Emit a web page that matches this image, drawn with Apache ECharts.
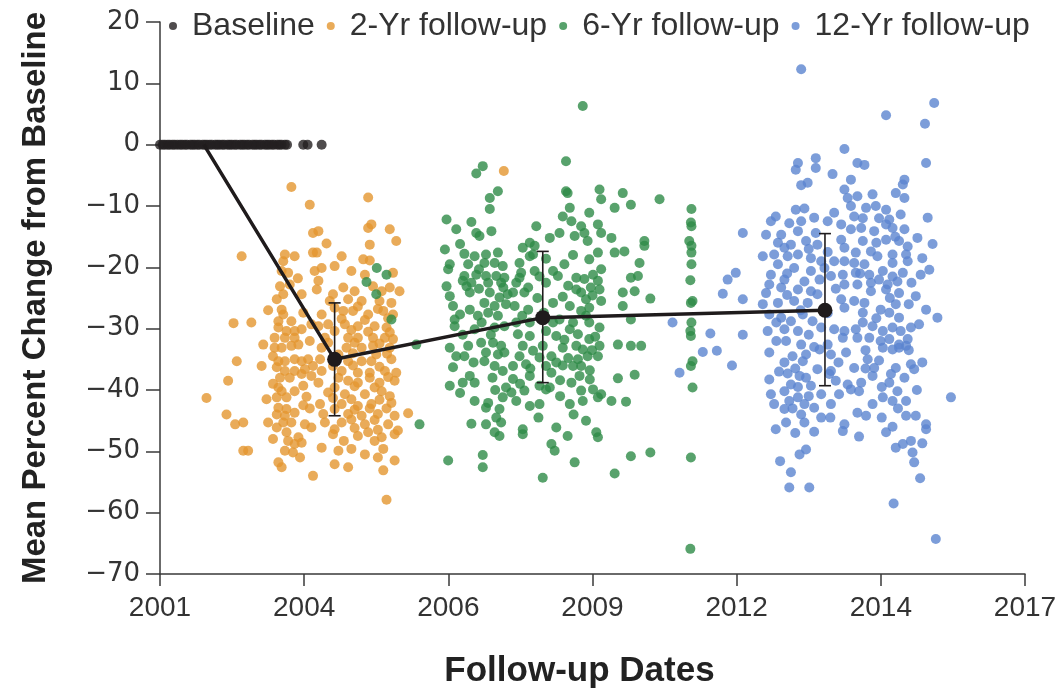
<!DOCTYPE html>
<html><head><meta charset="utf-8">
<script src="https://cdn.jsdelivr.net/npm/echarts@6/dist/echarts.min.js"></script>
<style>html,body{margin:0;padding:0;background:#fff}#c{width:1064px;height:694px}</style>
</head><body><div id="c"></div>
<script>
const xTickLabels = ['2001','2004','2006','2009','2012','2014','2017'];

const baselineYears = [2001.00,2001.05,2001.09,2001.14,2001.18,2001.23,2001.27,2001.32,2001.37,2001.41,2001.46,2001.50,2001.56,2001.60,2001.64,2001.69,2001.73,2001.79,2001.83,2001.87,2001.92,2001.96,2002.02,2002.06,2002.10,2002.15,2002.19,2002.25,2002.29,2002.33,2002.38,2002.42,2002.48,2002.52,2002.56,2002.61,2002.65,2002.71,2002.75,2002.79,2002.84,2002.88,2002.94,2002.98,2003.02,2003.07,2003.11,2003.17,2003.21,2003.25,2003.31,2003.35,2003.65,2003.73,2003.99];

const twoYr = [[2003.43,-6.9],[2003.77,-9.8],[2003.83,-14.4],[2002.51,-18.2],[2003.31,-17.9],[2003.49,-18.2],[2003.28,-19.0],[2003.83,-17.6],[2003.86,-20.6],[2003.37,-20.9],[2003.25,-20.6],[2003.22,-23.1],[2003.40,-22.8],[2003.16,-25.2],[2003.28,-24.4],[2003.62,-24.4],[2003.25,-26.9],[2003.28,-27.7],[2003.19,-28.8],[2003.43,-28.8],[2002.36,-29.1],[2002.69,-29.0],[2003.19,-29.8],[2003.34,-30.4],[2003.49,-30.4],[2003.62,-30.1],[2003.80,-29.3],[2003.12,-31.5],[2003.31,-31.5],[2003.49,-31.5],[2002.91,-32.6],[2003.12,-33.1],[2003.25,-33.1],[2003.43,-32.8],[2003.56,-32.6],[2002.42,-35.3],[2002.88,-36.1],[2003.09,-34.5],[2003.19,-35.3],[2003.31,-35.3],[2003.49,-35.0],[2003.62,-35.3],[2003.74,-35.0],[2003.83,-36.1],[2003.16,-36.3],[2003.31,-36.9],[2003.49,-36.9],[2003.68,-36.6],[2003.22,-38.0],[2003.40,-38.0],[2003.62,-37.4],[2003.80,-37.7],[2002.26,-38.5],[2003.19,-39.6],[2003.49,-40.2],[2003.25,-40.2],[2001.86,-41.3],[2003.16,-41.2],[2003.34,-41.2],[2003.71,-41.1],[2003.19,-42.9],[2003.34,-43.1],[2003.49,-43.7],[2003.16,-44.0],[2003.31,-44.2],[2002.23,-44.0],[2002.39,-45.6],[2002.54,-45.3],[2003.00,-45.3],[2003.16,-46.1],[2003.28,-45.3],[2003.43,-45.3],[2003.68,-45.6],[2003.80,-46.1],[2003.34,-46.9],[2003.37,-48.3],[2003.56,-47.7],[2003.49,-48.8],[2002.54,-49.9],[2002.63,-49.9],[2003.31,-49.9],[2003.46,-50.2],[2003.59,-51.0],[2003.19,-51.8],[2003.25,-52.6],[2003.83,-54.0],
[2003.65,-27.4],[2003.77,-32.0],[2003.09,-39.0],[2003.65,-39.3],[2003.77,-43.0],[2003.62,-48.6],[2003.09,-48.0],[2002.97,-41.5],[2003.00,-27.0],[2003.55,-21.8],[2003.65,-42.5],
[2004.85,-8.6],[2004.91,-13.0],[2004.85,-13.6],[2005.25,-13.8],[2005.37,-15.7],[2004.88,-16.3],[2004.08,-16.1],[2003.93,-14.1],[2003.90,-17.6],[2004.36,-18.2],[2004.76,-18.7],[2004.88,-18.9],[2004.23,-19.8],[2003.99,-20.1],[2004.54,-20.6],[2004.79,-21.2],[2005.31,-20.9],[2003.93,-22.2],[2003.90,-23.6],[2004.20,-24.4],[2004.39,-23.3],[2004.60,-23.9],[2004.94,-23.1],[2005.10,-23.9],[2005.25,-23.3],[2005.43,-23.9],[2004.14,-25.5],[2004.48,-25.2],[2004.73,-25.5],[2005.06,-25.5],[2005.28,-25.8],[2003.99,-27.7],[2004.39,-27.1],[2004.57,-27.1],[2004.85,-27.7],[2005.13,-27.1],[2005.31,-27.7],[2003.93,-29.6],[2004.11,-29.3],[2004.42,-29.3],[2004.66,-29.6],[2004.97,-29.6],[2005.19,-29.8],[2004.05,-31.5],[2004.48,-31.5],[2004.66,-31.5],[2004.94,-31.5],[2005.16,-31.5],[2005.31,-31.7],[2003.99,-33.1],[2004.45,-33.1],[2004.73,-33.1],[2004.94,-32.8],[2005.25,-33.1],[2003.96,-35.0],[2004.48,-35.3],[2004.73,-35.3],[2004.91,-35.3],[2005.28,-35.0],[2003.99,-36.9],[2004.36,-36.9],[2004.66,-37.2],[2004.88,-37.2],[2005.16,-36.9],[2005.37,-37.2],[2003.93,-38.8],[2004.48,-38.5],[2004.66,-38.8],[2005.06,-38.8],[2005.34,-38.5],[2004.11,-40.4],[2004.42,-40.7],[2004.79,-40.7],[2005.10,-40.2],[2005.25,-41.0],[2003.96,-42.3],[2004.36,-42.3],[2004.66,-42.6],[2004.91,-42.3],[2005.28,-42.1],[2004.02,-43.9],[2004.48,-43.9],[2004.73,-44.2],[2005.03,-43.9],[2005.34,-44.2],[2005.59,-43.8],[2004.05,-45.3],[2004.36,-45.3],[2004.79,-45.6],[2005.22,-45.6],[2005.40,-46.6],[2004.20,-47.2],[2004.66,-47.5],[2004.85,-46.9],[2005.10,-47.7],[2005.34,-47.2],[2003.99,-49.4],[2004.30,-49.9],[2004.54,-49.6],[2004.79,-50.5],[2005.13,-49.6],[2004.48,-52.6],[2004.23,-52.1],[2005.03,-51.0],[2005.34,-51.5],[2005.13,-53.1],[2005.19,-57.9],
[2004.23,-26.6],[2004.66,-26.4],[2005.03,-26.8],[2004.36,-28.4],[2004.79,-28.6],[2005.22,-28.3],[2004.23,-30.4],[2004.54,-30.2],[2004.85,-30.5],[2005.25,-30.6],[2004.11,-32.3],[2004.60,-32.3],[2005.06,-32.4],[2004.30,-34.2],[2004.57,-34.0],[2005.00,-34.2],[2005.20,-34.1],[2004.20,-36.1],[2004.57,-36.0],[2005.06,-36.2],[2004.30,-38.0],[2004.88,-38.0],[2005.22,-37.9],[2004.23,-39.6],[2004.60,-39.4],[2004.97,-39.6],[2004.54,-41.5],[2005.06,-41.6],[2004.20,-41.3],[2004.23,-43.1],[2004.60,-43.2],[2004.88,-43.0],[2005.19,-43.0],[2004.54,-44.8],[2004.97,-44.9],[2004.23,-46.4],[2004.60,-46.2],[2005.03,-46.5],[2004.40,-48.3],[2004.97,-48.3],
[2007.36,-4.3]];

const sixYr = [[2005.19,-21.2],[2005.01,-20.1],[2004.82,-22.4],[2005.00,-24.4],[2005.28,-28.5],[2005.74,-32.6],[2005.80,-45.6],
[2006.97,-3.5],[2006.85,-4.7],[2007.25,-7.6],[2007.10,-8.7],[2007.10,-10.5],[2006.30,-12.2],[2006.48,-13.8],[2006.76,-12.6],[2006.85,-14.4],[2006.91,-14.9],[2007.13,-14.1],[2006.27,-17.1],[2006.63,-17.8],[2006.82,-18.2],[2007.03,-17.9],[2007.25,-17.6],[2006.36,-19.5],[2006.33,-20.3],[2006.70,-19.5],[2007.00,-19.3],[2007.19,-19.3],[2007.34,-19.8],[2006.63,-21.4],[2006.85,-21.2],[2007.03,-21.4],[2007.22,-21.4],[2007.37,-21.7],[2006.30,-23.1],[2006.67,-23.1],[2006.76,-22.5],[2007.07,-22.5],[2007.31,-22.5],[2006.36,-24.7],[2006.73,-24.1],[2007.10,-24.1],[2007.28,-24.9],[2007.43,-24.4],[2006.42,-26.3],[2006.73,-26.9],[2007.00,-25.8],[2007.19,-26.3],[2007.40,-26.0],[2006.45,-28.5],[2006.88,-27.9],[2007.07,-27.4],[2007.25,-27.9],[2006.45,-29.6],[2006.82,-30.1],[2007.19,-29.8],[2007.37,-29.6],[2006.36,-33.1],[2006.70,-32.8],[2006.94,-32.3],[2007.16,-32.3],[2007.31,-32.8],[2006.48,-34.5],[2006.63,-34.5],[2007.03,-33.9],[2007.25,-34.2],[2007.37,-33.9],[2006.42,-36.3],[2007.00,-35.3],[2007.19,-36.1],[2007.34,-36.9],[2006.36,-39.3],[2006.60,-38.8],[2006.73,-37.7],[2006.82,-38.8],[2007.40,-39.6],[2006.82,-41.8],[2007.07,-42.1],[2007.03,-42.9],[2007.34,-41.2],[2007.28,-43.1],[2007.22,-44.5],[2007.31,-45.3],[2006.76,-45.5],[2007.03,-45.6],[2007.19,-46.9],[2007.28,-47.5],[2006.33,-51.5],[2006.97,-50.6],[2006.97,-52.6],
[2006.55,-16.2],[2006.60,-22.2],[2006.90,-23.5],[2006.55,-27.7],[2006.95,-29.0],[2006.60,-31.0],[2007.12,-31.0],[2006.80,-35.5],[2007.15,-38.0],[2006.55,-40.5],[2007.20,-40.0],[2006.90,-20.3],[2007.35,-23.3],
[2008.82,6.3],[2008.51,-2.7],[2008.51,-7.6],[2008.54,-7.9],[2008.58,-10.3],[2008.45,-11.7],[2007.96,-13.3],[2008.61,-12.5],[2008.79,-13.3],[2008.94,-11.1],[2009.13,-7.3],[2009.16,-8.9],[2008.39,-14.4],[2008.21,-15.2],[2007.84,-16.0],[2007.71,-16.8],[2007.93,-16.5],[2008.67,-14.9],[2008.85,-14.4],[2008.91,-15.7],[2009.10,-13.0],[2009.16,-14.4],[2007.65,-19.3],[2007.84,-18.2],[2008.27,-20.6],[2008.48,-19.5],[2008.94,-18.7],[2009.10,-17.6],[2009.16,-20.3],[2007.68,-20.9],[2007.93,-20.6],[2008.36,-21.4],[2008.70,-21.7],[2008.85,-21.9],[2009.01,-21.2],[2007.59,-22.5],[2007.81,-23.3],[2008.14,-22.5],[2008.70,-23.6],[2008.79,-24.1],[2009.10,-22.2],[2007.53,-24.1],[2007.74,-24.1],[2008.27,-25.8],[2008.88,-25.2],[2009.13,-23.6],[2007.56,-26.3],[2007.81,-26.9],[2008.58,-26.3],[2008.79,-27.1],[2008.94,-26.6],[2009.16,-25.5],[2007.59,-29.0],[2007.84,-29.0],[2008.27,-29.0],[2008.39,-28.5],[2008.64,-29.0],[2008.94,-29.0],[2009.13,-29.8],[2007.62,-30.9],[2007.84,-31.2],[2008.33,-31.2],[2008.58,-30.1],[2008.73,-30.9],[2008.94,-31.7],[2007.71,-32.8],[2008.08,-32.8],[2008.45,-33.1],[2008.70,-32.8],[2008.82,-33.4],[2009.13,-32.8],[2007.65,-34.5],[2008.02,-34.7],[2008.24,-34.5],[2008.33,-35.5],[2008.73,-35.0],[2008.91,-34.5],[2009.10,-34.5],[2007.53,-36.1],[2007.77,-35.8],[2008.14,-36.1],[2008.24,-37.2],[2008.64,-36.1],[2008.79,-36.1],[2007.53,-38.2],[2007.84,-37.7],[2008.02,-39.3],[2008.21,-39.6],[2008.61,-38.8],[2008.76,-37.7],[2007.50,-40.4],[2007.74,-40.1],[2008.14,-39.9],[2008.79,-40.1],[2009.01,-39.9],[2009.16,-40.7],[2007.59,-41.8],[2007.84,-42.6],[2008.02,-42.3],[2008.58,-42.3],[2008.82,-41.8],[2009.10,-41.2],[2008.88,-45.0],[2007.71,-46.4],[2007.71,-47.2],[2008.33,-46.1],[2008.54,-47.5],[2009.10,-47.7],[2009.07,-46.9],[2008.24,-48.8],[2008.30,-49.9],[2008.67,-51.8],[2008.08,-54.3],
[2007.90,-17.9],[2008.14,-18.6],[2008.64,-18.0],[2007.65,-21.7],[2008.02,-21.5],[2008.55,-23.0],[2008.97,-23.3],[2007.98,-25.0],[2008.45,-24.8],[2009.00,-24.6],[2007.70,-27.9],[2008.10,-27.4],[2008.88,-27.9],[2008.48,-31.8],[2008.14,-30.4],[2009.05,-31.3],[2007.90,-33.6],[2008.55,-34.8],[2008.99,-33.5],[2007.85,-36.5],[2008.45,-36.0],[2008.95,-36.8],[2008.40,-38.4],[2008.95,-38.3],[2007.66,-39.0],[2008.40,-41.0],[2008.65,-44.0],[2008.00,-44.5],
[2009.56,-7.9],[2009.71,-9.8],[2009.41,-10.3],[2010.24,-8.9],[2009.35,-15.2],[2009.96,-15.7],[2009.96,-16.5],[2009.59,-17.4],[2009.41,-17.6],[2009.87,-19.3],[2009.71,-21.7],[2009.84,-21.4],[2009.56,-24.1],[2009.78,-23.9],[2009.56,-26.3],[2010.07,-25.1],[2009.71,-28.5],[2009.47,-32.6],[2009.71,-32.8],[2009.90,-32.8],[2009.47,-38.1],[2009.78,-37.5],[2009.35,-41.8],[2009.62,-41.9],[2009.71,-50.8],[2010.07,-50.2],[2009.41,-53.6],
[2010.83,-10.5],[2010.82,-12.7],[2010.83,-13.3],[2010.79,-15.7],[2010.83,-16.5],[2010.83,-17.6],[2010.83,-19.5],[2010.81,-22.1],[2010.85,-25.5],[2010.82,-25.8],[2010.83,-29.0],[2010.81,-30.4],[2010.82,-31.2],[2010.85,-35.3],[2010.82,-36.1],[2010.85,-39.6],[2010.82,-51.0],[2010.81,-65.9]];

const twelveYr = [[2010.48,-29.0],[2010.61,-37.2],[2011.04,-33.8],
[2011.78,-14.4],[2011.50,-22.0],[2011.65,-20.9],[2011.41,-24.3],[2011.78,-25.2],[2011.18,-30.8],[2011.78,-31.0],[2011.30,-33.6],[2011.58,-36.0],
[2012.86,12.3],[2013.66,-0.7],[2012.80,-3.0],[2012.76,-4.1],[2013.13,-2.2],[2013.13,-3.8],[2013.44,-4.8],[2012.86,-6.6],[2012.98,-6.2],[2013.66,-7.3],[2013.72,-8.7],[2012.76,-10.6],[2012.92,-10.4],[2013.47,-11.1],[2012.39,-11.7],[2012.30,-12.5],[2012.64,-12.8],[2012.86,-12.5],[2013.10,-11.9],[2013.35,-12.5],[2013.60,-13.0],[2012.21,-14.7],[2012.49,-14.7],[2012.80,-14.1],[2013.13,-14.4],[2013.60,-15.5],[2012.43,-16.0],[2012.67,-16.3],[2012.95,-15.7],[2013.16,-16.3],[2013.66,-16.8],[2012.15,-18.2],[2012.36,-17.9],[2012.61,-18.2],[2012.80,-17.9],[2013.04,-18.5],[2013.23,-19.0],[2013.47,-19.0],[2013.66,-19.0],[2012.43,-19.5],[2012.73,-20.1],[2013.04,-20.6],[2013.29,-20.1],[2013.41,-21.4],[2013.63,-21.2],[2012.30,-21.2],[2012.55,-22.0],[2012.92,-22.3],[2012.27,-22.8],[2012.49,-23.3],[2012.80,-23.6],[2013.04,-23.9],[2013.16,-24.4],[2013.66,-22.8],[2012.21,-24.2],[2012.15,-26.0],[2012.43,-25.8],[2012.73,-25.5],[2012.98,-25.8],[2013.60,-25.2],[2013.66,-26.6],[2012.27,-27.7],[2012.49,-28.2],[2012.67,-28.8],[2012.89,-27.7],[2013.07,-28.8],[2012.24,-30.4],[2012.55,-30.1],[2012.80,-30.4],[2013.23,-29.8],[2013.47,-30.1],[2013.66,-30.4],[2012.58,-32.0],[2012.86,-32.6],[2013.35,-32.6],[2013.63,-31.5],[2012.27,-33.9],[2012.70,-34.5],[2012.95,-34.2],[2013.20,-33.4],[2013.41,-34.2],[2013.69,-33.9],[2012.55,-35.5],[2012.89,-35.3],[2013.16,-36.6],[2013.41,-36.9],[2012.61,-37.3],[2012.83,-37.7],[2012.27,-38.3],[2012.67,-39.1],[2012.95,-38.0],[2013.04,-39.3],[2013.38,-37.4],[2012.30,-40.7],[2012.55,-40.2],[2012.80,-41.2],[2013.23,-40.7],[2013.56,-40.7],[2013.72,-39.1],[2012.36,-42.3],[2012.64,-41.8],[2012.92,-42.3],[2013.10,-42.9],[2013.41,-42.3],[2012.55,-43.1],[2012.86,-44.0],[2013.23,-44.5],[2012.58,-45.3],[2012.92,-45.3],[2012.39,-46.4],[2013.10,-46.8],[2013.63,-46.7],[2013.66,-45.6],[2012.95,-49.7],[2012.83,-50.5],[2012.47,-51.6],[2012.67,-53.4],[2012.64,-55.9],[2013.01,-55.9],
[2012.55,-16.8],[2013.00,-17.0],[2013.35,-17.5],[2012.60,-21.0],[2013.20,-22.0],[2013.50,-23.5],[2012.60,-24.5],[2012.85,-27.0],[2013.35,-27.5],[2012.40,-29.0],[2013.00,-31.0],[2012.40,-32.0],[2013.10,-33.0],[2012.75,-36.5],[2013.55,-35.5],[2012.45,-37.0],[2012.80,-39.5],[2013.50,-38.5],[2012.70,-43.0],[2013.00,-41.0],[2012.75,-47.0],[2013.40,-44.5],
[2015.32,6.8],[2014.43,4.8],[2015.15,3.4],[2015.17,-3.0],[2013.90,-3.0],[2014.03,-3.3],[2013.78,-5.7],[2014.77,-5.7],[2014.74,-6.5],[2013.90,-8.4],[2014.18,-8.1],[2014.61,-7.9],[2014.77,-8.7],[2013.78,-10.0],[2014.06,-10.3],[2014.24,-10.0],[2014.43,-10.6],[2013.84,-11.7],[2015.20,-11.9],[2014.49,-12.2],[2014.70,-11.4],[2013.78,-13.8],[2013.97,-13.6],[2014.21,-14.1],[2014.43,-13.0],[2014.55,-13.6],[2014.77,-13.8],[2015.01,-15.2],[2015.29,-16.2],[2014.00,-15.7],[2014.43,-15.5],[2014.67,-15.7],[2014.83,-16.6],[2013.87,-17.6],[2014.15,-17.4],[2014.27,-18.2],[2014.55,-17.9],[2014.80,-17.9],[2015.10,-18.5],[2013.84,-19.3],[2014.03,-19.5],[2014.55,-19.3],[2014.83,-19.0],[2015.23,-20.4],[2015.07,-21.2],[2013.87,-20.9],[2014.12,-21.2],[2014.37,-20.6],[2014.74,-20.9],[2014.64,-22.3],[2014.98,-24.7],[2013.90,-22.8],[2014.15,-22.5],[2014.46,-22.8],[2014.15,-23.9],[2014.43,-23.6],[2014.67,-24.2],[2013.84,-25.5],[2014.03,-25.8],[2014.33,-26.9],[2014.61,-26.0],[2015.17,-26.9],[2015.38,-28.2],[2014.00,-27.4],[2014.49,-27.4],[2014.67,-28.2],[2015.04,-29.3],[2014.89,-29.8],[2013.87,-30.1],[2014.18,-29.6],[2014.37,-30.4],[2014.55,-29.8],[2014.70,-30.4],[2013.90,-31.5],[2014.12,-31.5],[2014.33,-32.0],[2014.49,-31.7],[2014.67,-32.6],[2014.83,-31.7],[2014.37,-33.1],[2014.55,-33.4],[2014.67,-33.1],[2013.84,-36.4],[2014.09,-35.0],[2014.21,-36.4],[2014.89,-35.8],[2015.10,-35.5],[2014.95,-36.6],[2014.61,-36.4],[2014.52,-37.4],[2014.77,-38.0],[2013.97,-38.8],[2013.78,-39.9],[2013.93,-40.2],[2014.18,-37.7],[2014.49,-38.8],[2014.64,-40.2],[2014.80,-41.8],[2014.37,-41.2],[2014.55,-41.8],[2015.63,-41.2],[2013.90,-43.7],[2014.06,-44.2],[2014.18,-42.3],[2014.80,-44.2],[2014.98,-44.2],[2015.17,-45.6],[2015.17,-46.4],[2013.93,-47.6],[2014.43,-46.9],[2014.61,-49.4],[2014.74,-48.8],[2014.89,-48.3],[2014.92,-50.2],[2014.95,-51.8],[2015.10,-48.7],[2015.06,-54.4],[2014.57,-58.5],[2015.35,-64.3],
[2014.30,-12.0],[2014.00,-12.0],[2014.60,-15.0],[2014.25,-16.0],[2013.95,-21.0],[2014.30,-22.0],[2014.55,-21.5],[2014.90,-22.5],[2014.85,-26.0],[2014.25,-28.3],[2014.50,-25.0],[2014.00,-29.0],[2014.80,-32.8],[2014.05,-33.5],[2014.30,-35.2],[2014.85,-33.5],[2014.35,-39.5],[2014.05,-36.5],[2014.65,-43.0],[2014.35,-44.5],[2014.55,-46.0],[2015.00,-40.0]];

const meanPoints = [[2001.81,0],[2004.23,-35.0],[2008.08,-28.2],[2013.30,-27.0]];
const errorBars = [[2004.23,-44.2,-25.8],[2008.08,-38.8,-17.4],[2013.30,-39.3,-14.5]];

const X0 = 2001, X1 = 2017, NT = xTickLabels.length - 1;
const toU = yr => (yr - X0) * NT / (X1 - X0);
const pts = arr => arr.map(d => [toU(d[0]), d[1]]);

const C_BASE = '#231f20', C_2 = '#E3962F', C_6 = '#2E8B47', C_12 = '#5B84CF';
const sansFont = "'Liberation Sans',Arial,sans-serif";

const chart = echarts.init(document.getElementById('c'), null, {renderer:'canvas'});
const scatterBase = { type:'scatter', symbol:'circle', symbolSize:10, clip:false };
chart.setOption({
  animation:false,
  backgroundColor:'#ffffff',
  grid:{left:160, right:39, top:22, bottom:119, containLabel:false},
  legend:{
    data:['Baseline','2-Yr follow-up','6-Yr follow-up','12-Yr follow-up'],
    left:164, top:5, itemWidth:8, itemHeight:8, itemGap:12, icon:'circle',
    textStyle:{fontFamily:sansFont, fontSize:32, color:'#333', padding:[0,0,0,10]}
  },
  xAxis:{
    type:'value', min:0, max:NT, interval:1,
    name:'Follow-up Dates', nameLocation:'middle', nameGap:80,
    nameTextStyle:{fontFamily:sansFont, fontWeight:'bold', fontSize:35, color:'#222', padding:[0,26,0,0]},
    axisLine:{show:true, onZero:false, lineStyle:{color:'#3a3a3a', width:1.5}},
    axisTick:{show:true, inside:false, length:12, lineStyle:{color:'#3a3a3a', width:1.5}},
    axisLabel:{margin:20, fontFamily:sansFont, fontSize:28, color:'#333', formatter:v => xTickLabels[Math.round(v)] || ''},
    splitLine:{show:false}
  },
  yAxis:{
    type:'value', min:-70, max:20, interval:10,
    name:'Mean Percent Change from Baseline', nameLocation:'middle', nameGap:108, nameRotate:90,
    nameTextStyle:{fontFamily:sansFont, fontWeight:'bold', fontSize:33, color:'#222'},
    axisLine:{show:true, onZero:false, lineStyle:{color:'#3a3a3a', width:1.5}},
    axisTick:{show:true, inside:false, length:14, lineStyle:{color:'#3a3a3a', width:1.5}},
    axisLabel:{margin:20, fontFamily:"'DejaVu Sans',sans-serif", fontSize:26, color:'#333', formatter:v => String(v).replace('-', '\u2212')},
    splitLine:{show:false}
  },
  series:[
    Object.assign({}, scatterBase, {name:'Baseline', data:baselineYears.map(y => [toU(y), 0]), itemStyle:{color:C_BASE}, z:3}),
    Object.assign({}, scatterBase, {name:'2-Yr follow-up', data:pts(twoYr), itemStyle:{color:C_2}, z:3}),
    Object.assign({}, scatterBase, {name:'6-Yr follow-up', data:pts(sixYr), itemStyle:{color:C_6}, z:3}),
    Object.assign({}, scatterBase, {name:'12-Yr follow-up', data:pts(twelveYr), itemStyle:{color:C_12}, z:3}),
    {
      type:'custom', name:'err', z:5,
      data:errorBars.map(d => [toU(d[0]), d[1], d[2]]),
      renderItem:(params, api) => {
        const lo = api.coord([api.value(0), api.value(1)]);
        const hi = api.coord([api.value(0), api.value(2)]);
        const w = 6;
        const st = {stroke:'#1f1b1c', lineWidth:1.6};
        return {type:'group', children:[
          {type:'line', shape:{x1:lo[0], y1:lo[1], x2:hi[0], y2:hi[1]}, style:st},
          {type:'line', shape:{x1:lo[0]-w, y1:lo[1], x2:lo[0]+w, y2:lo[1]}, style:st},
          {type:'line', shape:{x1:hi[0]-w, y1:hi[1], x2:hi[0]+w, y2:hi[1]}, style:st}
        ]};
      }
    },
    {
      type:'line', name:'Mean', z:6, data:pts(meanPoints),
      symbol:'circle', showSymbol:true,
      symbolSize:(v, p) => p.dataIndex === 0 ? 0 : 15,
      lineStyle:{color:'#1f1b1c', width:3.5},
      itemStyle:{color:'#1f1b1c'}
    }
  ]
});
</script>
</body></html>
